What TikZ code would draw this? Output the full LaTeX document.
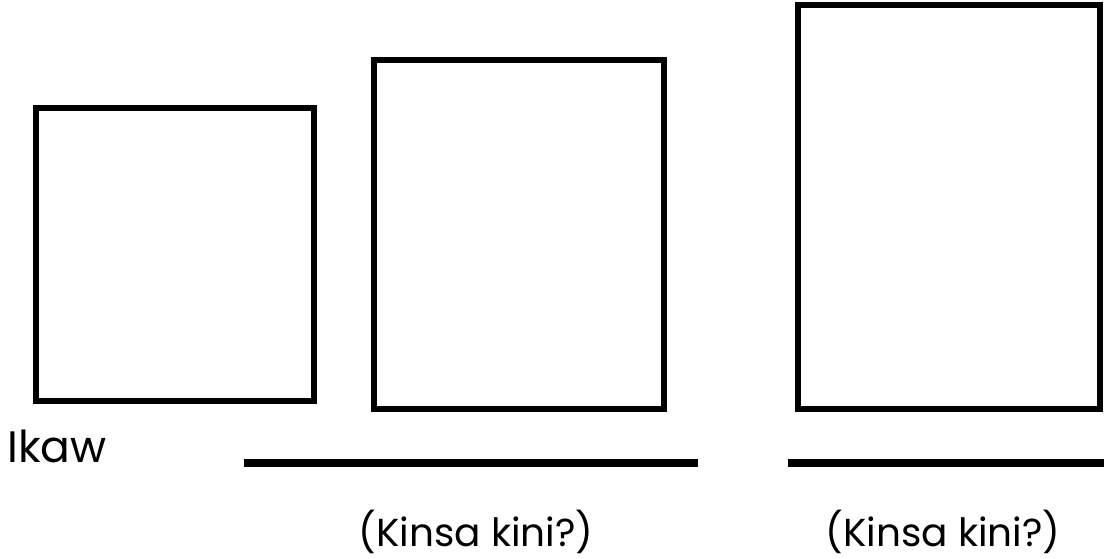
\documentclass[tikz,border=0pt]{standalone}
\usepackage{fontspec}
\setmainfont{Poppins}
\begin{document}
\begin{tikzpicture}[x=1pt,y=1pt,
  frame/.style={draw=black, line width=6pt, inner sep=0pt, outer sep=0pt},
  blank/.style={draw=black, line width=8pt},
  lbl/.style={font=\fontsize{44}{48}\selectfont, inner sep=0pt, anchor=base west},
  qlbl/.style={font=\fontsize{39}{43}\selectfont, inner sep=0pt, anchor=base}]
\useasboundingbox (0,0) rectangle (1104,558);
\node[frame, minimum width=278pt, minimum height=293pt] (b1) at (175,303.5) {};
\node[frame, minimum width=290pt, minimum height=349pt] (b2) at (519,323.5) {};
\node[frame, minimum width=302pt, minimum height=404pt] (b3) at (949,351) {};
\coordinate (l1a) at (244,95);
\coordinate (l1b) at (698,95);
\coordinate (l2a) at (788,95);
\coordinate (l2b) at (1104,95);
\draw[blank] (l1a) -- (l1b);
\draw[blank] (l2a) -- (l2b);
\node[lbl] (ikaw) at (7,96) {Ikaw};
\node[qlbl] (q1) at (476,12) {(Kinsa kini?)};
\node[qlbl] (q2) at (943,12) {(Kinsa kini?)};
\end{tikzpicture}
\end{document}
